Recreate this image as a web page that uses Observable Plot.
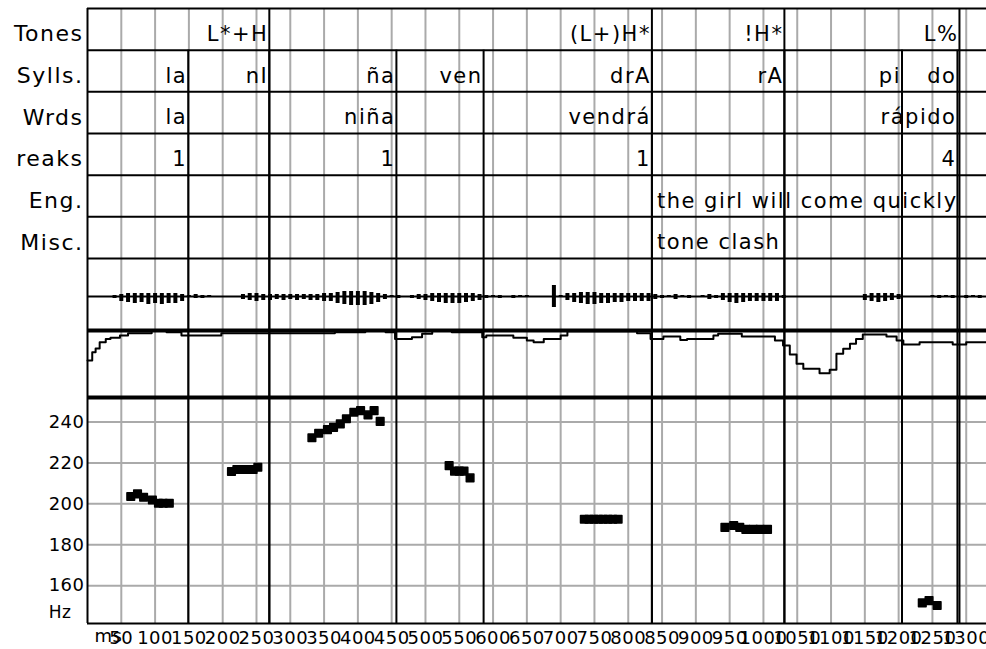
<!DOCTYPE html>
<html><head><meta charset="utf-8">
<script src="https://cdn.jsdelivr.net/npm/d3@7"></script>
<script src="https://cdn.jsdelivr.net/npm/@observablehq/plot@0.6"></script>
<style>
body{margin:0;background:#fff;}
#chart{width:986px;}
#chart svg{display:block;}
</style></head><body><div id="chart"></div>
<script>
// ---------- data ----------
const tiers = ["Tones","Sylls.","Wrds","reaks","Eng.","Misc."];
const toneLabels = ["L*+H","(L+)H*","!H*","L%"];
const toneEnds = [269, 835, 1031, 1290];
const syllLabels = ["la","nI","ña","ven","drA","rA","pi","do"];
const syllEnds = [149, 269, 457, 586, 835, 1031, 1205, 1287];
const wordLabels = ["la","niña","vendrá","rápido"];
const wordEnds = [149, 457, 835, 1287];
const breakLabels = ["1","1","1","4"];
const breakEnds = [149, 457, 835, 1287];
const engLabels = ["the girl will come quickly"];
const engStarts = [835];
const miscLabels = ["tone clash"];
const miscStarts = [835];

const timeTicks = [50,100,150,200,250,300,350,400,450,500,550,600,650,700,750,800,850,900,950,1000,1050,1100,1150,1200,1250,1300];
const hzTicks = [160,180,200,220,240];

// waveform envelope (ms, amplitude above / below the zero line)
const waveT    = [40,50,60,70,80,90,100,110,120,130,140,150,160,170,180,230,240,250,260,270,280,290,300,310,320,330,340,350,360,370,380,390,400,410,420,430,440,450,460,470,480,490,500,510,520,530,540,550,560,570,580,590,600,610,620,630,640,650,690,700,710,720,730,740,750,760,770,780,790,800,810,820,830,840,850,860,870,880,890,900,910,920,930,940,950,960,970,980,990,1000,1010,1020,1030,1150,1160,1170,1180,1190,1200,1250,1260,1270,1280,1300,1310,1320];
const waveUp   = [1,2,3,3,3,3,3,3,3,3,2,1,2,1,1,2,3,3,2,2,2,2,2,2,2,2,2,3,3,4,5,5,5,5,4,3,2,1,1,0,1,2,2,3,3,3,3,3,3,3,2,1,1,1,0,1,1,1,11,1,3,3,4,4,4,3,3,3,3,3,3,3,3,2,1,1,2,1,1,0,1,2,1,3,3,3,3,3,3,3,3,3,1,2,3,3,3,3,2,1,1,1,1,1,1,1];
const waveDown = [2,5,6,7,6,8,7,8,7,7,5,1,2,2,1,3,4,5,4,4,3,4,3,4,3,4,4,5,5,7,8,9,9,9,8,6,3,1,2,1,2,3,4,5,6,7,7,7,6,5,4,2,1,2,1,2,1,1,11,1,4,6,7,8,8,7,7,6,6,5,5,5,5,3,2,1,3,1,2,1,1,3,2,4,6,7,6,5,5,5,5,5,2,4,5,6,5,4,3,1,2,1,2,2,1,2];

// intensity contour (step starts, dB)
const intT  = [0,7,12,18,27,34,48,60,95,117,139,198,366,411,441,455,480,495,510,539,584,590,630,650,660,675,700,710,813,833,852,877,887,926,933,968,1017,1029,1039,1049,1059,1083,1098,1108,1118,1128,1137,1147,1182,1197,1207,1231,1280,1300,1330];
const intDb = [62.1,67.0,69.3,73.0,75.0,75.6,77.0,78.4,79.7,79.0,77.0,78.4,79.0,79.7,79.0,75.0,76.0,78.0,79.7,79.0,76.0,77.0,75.6,74.0,73.0,75.0,77.0,79.6,78.4,75.0,76.4,74.4,75.0,77.0,78.0,76.4,74.0,71.0,65.7,60.1,57.1,54.5,56.5,66.1,69.1,72.1,75.0,77.6,76.4,74.0,71.6,73.0,71.6,73.0,73.0];

// pitch track (ms, Hz)
const pitchT  = [64,74,83,96,105,112,121, 213,221,229,237,245,252, 332,342,355,364,374,383,394,404,415,424,433, 535,543,550,557,566, 735,742,749,756,763,770,777,785, 943,956,965,974,985,995,1006, 1235,1245,1257];
const pitchHz = [203.6,204.9,203.2,201.9,200.3,200.3,200.3, 215.8,216.8,216.8,216.8,216.8,217.9, 232.3,234.5,236.3,237.4,239.1,241.6,244.8,245.6,243.5,245.6,240.3, 218.7,216.0,216.0,216.0,212.7, 192.5,192.5,192.5,192.5,192.5,192.5,192.5,192.5, 188.5,189.4,188.5,187.5,187.5,187.5,187.5, 151.6,152.7,150.3];

// ---------- layout ----------
const W = 986, ML = 87, XDOM = [0, 1330];
const FONT = "'DejaVu Sans', sans-serif";
const GRID = "#aaaaaa";
const allEnds = toneEnds.concat(syllEnds);
const chart = document.getElementById("chart");

// tiers panel
const tierPlot = Plot.plot({
  width: W, height: 258, marginTop: 8, marginBottom: 0, marginLeft: ML, marginRight: 0,
  x: {domain: XDOM, axis: null},
  y: {domain: [0, tiers.length], reverse: true, axis: null},
  style: {fontFamily: FONT, fontSize: "21px", letterSpacing: "1.5px", background: "white", color: "black"},
  marks: [
    Plot.ruleX(timeTicks, {y1: () => 0, y2: () => tiers.length, stroke: GRID, strokeWidth: 2}),
    Plot.ruleX(toneEnds, {y1: () => 0, y2: () => tiers.length, stroke: "black", strokeWidth: 2}),
    Plot.ruleX(syllEnds, {y1: () => 1, y2: () => tiers.length, stroke: "black", strokeWidth: 2}),
    Plot.ruleY(d3.range(tiers.length + 1), {stroke: "black", strokeWidth: 2}),
    Plot.ruleX([0], {stroke: "black", strokeWidth: 2}),
    Plot.text(tiers, {y: (d, i) => i + 0.5, text: d => d, frameAnchor: "left", textAnchor: "end", dx: -4, dy: 5, fontSize: 22}),
    Plot.text(toneLabels, {x: (d, i) => toneEnds[i], y: () => 0.5, text: d => d, textAnchor: "end", dx: -1, dy: 5}),
    Plot.text(syllLabels, {x: (d, i) => syllEnds[i], y: () => 1.5, text: d => d, textAnchor: "end", dx: -1, dy: 5}),
    Plot.text(wordLabels, {x: (d, i) => wordEnds[i], y: () => 2.5, text: d => d, textAnchor: "end", dx: -1, dy: 5}),
    Plot.text(breakLabels, {x: (d, i) => breakEnds[i], y: () => 3.5, text: d => d, textAnchor: "end", dx: -1, dy: 5}),
    Plot.text(engLabels, {x: (d, i) => engStarts[i], y: () => 4.5, text: d => d, textAnchor: "start", dx: 5, dy: 5}),
    Plot.text(miscLabels, {x: (d, i) => miscStarts[i], y: () => 5.5, text: d => d, textAnchor: "start", dx: 5, dy: 5})
  ]
});
chart.appendChild(tierPlot);

// waveform panel
const waveData = waveT.map((t, i) => ({t, up: waveUp[i], down: -waveDown[i]}));
const wavePlot = Plot.plot({
  width: W, height: 72, marginTop: 0, marginBottom: 0, marginLeft: ML, marginRight: 0,
  x: {domain: XDOM, axis: null},
  y: {domain: [-34, 38], axis: null},
  style: {background: "white"},
  marks: [
    Plot.ruleX(timeTicks, {stroke: GRID, strokeWidth: 2}),
    Plot.ruleX(allEnds, {stroke: "black", strokeWidth: 2}),
    Plot.ruleY([0], {stroke: "black", strokeWidth: 2}),
    Plot.ruleX(waveData, {x: "t", y1: "down", y2: "up", stroke: "black", strokeWidth: 4}),
    Plot.ruleY([38], {stroke: "black", strokeWidth: 2}),
    Plot.ruleY([-34], {stroke: "black", strokeWidth: 4}),
    Plot.ruleX([0], {stroke: "black", strokeWidth: 2})
  ]
});
chart.appendChild(wavePlot);

// intensity panel
const intData = intT.map((t, i) => ({t, db: intDb[i]}));
const intPlot = Plot.plot({
  width: W, height: 67, marginTop: 0, marginBottom: 0, marginLeft: ML, marginRight: 0,
  x: {domain: XDOM, axis: null},
  y: {domain: [40, 80], axis: null},
  style: {background: "white"},
  marks: [
    Plot.ruleX(timeTicks, {stroke: GRID, strokeWidth: 2}),
    Plot.ruleX(allEnds, {stroke: "black", strokeWidth: 2}),
    Plot.line(intData, {x: "t", y: "db", curve: "step-after", stroke: "black", strokeWidth: 2}),
    Plot.ruleY([80], {stroke: "black", strokeWidth: 4}),
    Plot.ruleY([40], {stroke: "black", strokeWidth: 4}),
    Plot.ruleX([0], {stroke: "black", strokeWidth: 2})
  ]
});
chart.appendChild(intPlot);

// pitch panel
const pitchData = pitchT.map((t, i) => ({t, hz: pitchHz[i]}));
const pitchPlot = Plot.plot({
  width: W, height: 252, marginTop: 0, marginBottom: 26, marginLeft: ML, marginRight: 0,
  x: {domain: XDOM, ticks: timeTicks, tickFormat: d => String(d), tickSize: 0, tickPadding: 8, label: null},
  y: {domain: [141.5, 252], ticks: hzTicks, tickFormat: d => String(d), tickSize: 0, tickPadding: 3, label: null},
  style: {fontFamily: FONT, fontSize: "18px", letterSpacing: "0.5px", background: "white", color: "black"},
  marks: [
    Plot.ruleX(timeTicks, {stroke: GRID, strokeWidth: 2}),
    Plot.ruleY(hzTicks, {stroke: GRID, strokeWidth: 2}),
    Plot.ruleX(allEnds, {stroke: "black", strokeWidth: 2}),
    Plot.ruleY([252], {stroke: "black", strokeWidth: 4}),
    Plot.ruleY([141.5], {stroke: "black", strokeWidth: 2}),
    Plot.ruleX([0], {stroke: "black", strokeWidth: 2}),
    Plot.dot(pitchData, {x: "t", y: "hz", symbol: "square", r: 4.3, fill: "black", stroke: "black", strokeWidth: 1.5, strokeLinejoin: "round"}),
    Plot.text(["Hz"], {frameAnchor: "bottom-left", text: d => d, textAnchor: "end", dx: -16, dy: -6, fontSize: 17}),
    Plot.text(["ms"], {frameAnchor: "bottom-left", text: d => d, textAnchor: "start", dx: 7, dy: 18, fontSize: 18})
  ]
});
chart.appendChild(pitchPlot);
</script></body></html>
